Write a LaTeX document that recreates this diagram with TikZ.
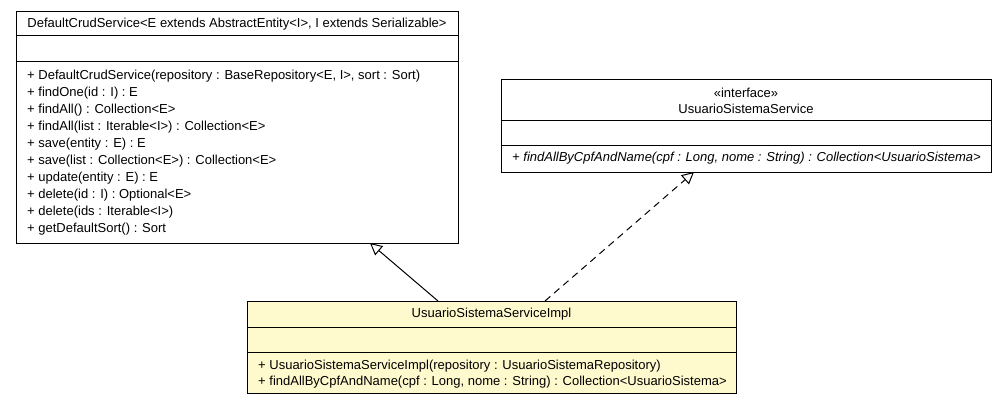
\documentclass[tikz,border=0pt]{standalone}
\usepackage{fontspec}
\setmainfont{Liberation Sans}
\usetikzlibrary{arrows.meta,calc}

\definecolor{implfill}{RGB}{255,250,205}
\newcommand\umlfont{\fontsize{13.0}{16}\selectfont}

\tikzset{
  classbox/.style={draw=black, line width=1pt, fill=white, rectangle,
    inner sep=0pt, outer sep=0pt, anchor=north west},
  member/.style={anchor=base west, inner sep=0pt, font=\umlfont},
  classname/.style={anchor=base, inner sep=0pt, font=\umlfont},
  compline/.style={line width=1pt, draw=black},
  inherit/.style={line width=1pt,
    -{Triangle[open, length=12pt, width=12pt, fill=white]}},
  realize/.style={inherit, dash pattern=on 7pt off 5pt},
}

\begin{document}
\begin{tikzpicture}[x=1pt, y=-1pt]
\useasboundingbox (0,0) rectangle (1007,405);

% --- DefaultCrudService ---
\node[classbox, minimum width=442pt, minimum height=232pt] (dcs) at (16,11) {};
\draw[compline] ($(dcs.north west)+(0,24)$) -- ($(dcs.north east)+(0,24)$);
\draw[compline] ($(dcs.north west)+(0,50)$) -- ($(dcs.north east)+(0,50)$);
\node[classname] (dcsname) at (237,27.5)
  {DefaultCrudService<E extends AbstractEntity<I>, I extends Serializable>};
\node[member] (dcs1) at (27,79.5) {+ DefaultCrudService(repository : BaseRepository<E, I>, sort : Sort)};
\node[member] (dcs2) at (27,96.5) {+ findOne(id : I) : E};
\node[member] (dcs3) at (27,113.6) {+ findAll() : Collection<E>};
\node[member] (dcs4) at (27,130.6) {+ findAll(list : Iterable<I>) : Collection<E>};
\node[member] (dcs5) at (27,147.7) {+ save(entity : E) : E};
\node[member] (dcs6) at (27,164.7) {+ save(list : Collection<E>) : Collection<E>};
\node[member] (dcs7) at (27,181.8) {+ update(entity : E) : E};
\node[member] (dcs8) at (27,198.8) {+ delete(id : I) : Optional<E>};
\node[member] (dcs9) at (27,215.9) {+ delete(ids : Iterable<I>)};
\node[member] (dcs10) at (27,232.9) {+ getDefaultSort() : Sort};

% --- UsuarioSistemaService (interface) ---
\node[classbox, minimum width=490pt, minimum height=93pt] (iface) at (501,79) {};
\draw[compline] ($(iface.north west)+(0,41)$) -- ($(iface.north east)+(0,41)$);
\draw[compline] ($(iface.north west)+(0,66)$) -- ($(iface.north east)+(0,66)$);
\node[classname] (ifacestereo) at (746,97.5) {«interface»};
\node[classname] (ifacename) at (746,113.5) {UsuarioSistemaService};
\node[member, font=\umlfont\itshape] (iface1) at (512,161.5)
  {+ findAllByCpfAndName(cpf : Long, nome : String) : Collection<UsuarioSistema>};

% --- UsuarioSistemaServiceImpl ---
\node[classbox, fill=implfill, minimum width=489pt, minimum height=92pt] (impl) at (247,301) {};
\draw[compline] ($(impl.north west)+(0,26)$) -- ($(impl.north east)+(0,26)$);
\draw[compline] ($(impl.north west)+(0,51)$) -- ($(impl.north east)+(0,51)$);
\node[classname] (implname) at (491.5,317.5) {UsuarioSistemaServiceImpl};
\node[member] (impl1) at (258,369.5)
  {+ UsuarioSistemaServiceImpl(repository : UsuarioSistemaRepository)};
\node[member] (impl2) at (258,385.5)
  {+ findAllByCpfAndName(cpf : Long, nome : String) : Collection<UsuarioSistema>};

% --- relations ---
\draw[inherit] ($(impl.north west)+(191,0)$) -- ($(dcs.south west)+(354,0)$);
\draw[realize] ($(impl.north west)+(298,0)$) -- ($(iface.south west)+(193,0)$);
\end{tikzpicture}
\end{document}
